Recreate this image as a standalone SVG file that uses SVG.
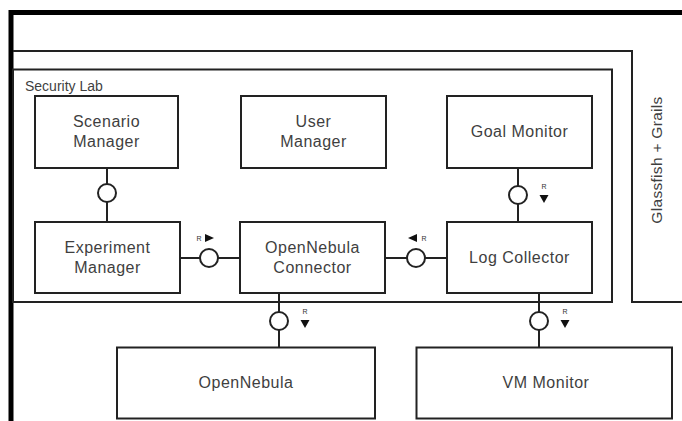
<svg xmlns="http://www.w3.org/2000/svg" width="682" height="421" viewBox="0 0 682 421">
<defs>
<style>
.box{fill:#fff;stroke:#222;stroke-width:2}
.ln{fill:none;stroke:#222;stroke-width:2}
.lol{fill:#fff;stroke:#222;stroke-width:2}
.t{font-family:"Liberation Sans",Arial,sans-serif;font-size:16px;letter-spacing:0.5px;fill:#3f3f3f;text-anchor:middle}
.r{font-family:"Liberation Sans",Arial,sans-serif;font-size:7px;fill:#333;text-anchor:middle}
.tri{fill:#111}
</style>
</defs>
<rect width="682" height="421" fill="#fff"/>
<g id="frame">
<path d="M11 421 V12.5 H682" fill="none" stroke="#000" stroke-width="5"/>
<path class="ln" d="M13 51 H632 V302 H682"/>
<text x="657" y="160" class="t" style="font-size:15.5px;letter-spacing:0.3px" transform="rotate(-90 657 160)" dy="5">Glassfish + Grails</text>
</g>
<g id="security-lab">
<rect class="box" x="13" y="69.5" width="599" height="232.5"/>
<text x="25" y="91" font-family="Liberation Sans, Arial, sans-serif" font-size="14" fill="#3f3f3f">Security Lab</text>
</g>
<g id="connectors">
<path class="ln" d="M107 168 V222"/>
<path class="ln" d="M180 258 H240"/>
<path class="ln" d="M385 258 H447"/>
<path class="ln" d="M518 168 V222"/>
<path class="ln" d="M279 293 V347.5"/>
<path class="ln" d="M539 293 V347.5"/>
<circle class="lol" cx="107" cy="193" r="9"/>
<circle class="lol" cx="209" cy="258" r="9"/>
<circle class="lol" cx="416" cy="258" r="9"/>
<circle class="lol" cx="518" cy="195" r="9"/>
<circle class="lol" cx="279" cy="321" r="9"/>
<circle class="lol" cx="539" cy="321" r="9"/>
<text class="r" x="199" y="241">R</text>
<path class="tri" d="M205 234 L214 238 L205 242 Z"/>
<text class="r" x="424" y="241">R</text>
<path class="tri" d="M417 234 L408 238 L417 242 Z"/>
<text class="r" x="544" y="189">R</text>
<path class="tri" d="M539.5 195 L548.5 195 L544 203 Z"/>
<text class="r" x="305" y="314">R</text>
<path class="tri" d="M300.5 320 L309.5 320 L305 328 Z"/>
<text class="r" x="565" y="314">R</text>
<path class="tri" d="M560.5 320 L569.5 320 L565 328 Z"/>
</g>
<g id="scenario-manager">
<rect class="box" x="35" y="96" width="143" height="72"/>
<text class="t" x="106.5" y="127">Scenario</text>
<text class="t" x="106.5" y="147">Manager</text>
</g>
<g id="user-manager">
<rect class="box" x="241" y="96" width="145" height="72"/>
<text class="t" x="313.5" y="127">User</text>
<text class="t" x="313.5" y="147">Manager</text>
</g>
<g id="goal-monitor">
<rect class="box" x="447" y="96" width="145" height="72"/>
<text class="t" x="519.5" y="137">Goal Monitor</text>
</g>
<g id="experiment-manager">
<rect class="box" x="35" y="222" width="145" height="71"/>
<text class="t" x="107.5" y="253">Experiment</text>
<text class="t" x="107.5" y="273">Manager</text>
</g>
<g id="opennebula-connector">
<rect class="box" x="240" y="222" width="145" height="71"/>
<text class="t" x="312.5" y="253">OpenNebula</text>
<text class="t" x="312.5" y="273">Connector</text>
</g>
<g id="log-collector">
<rect class="box" x="447" y="222" width="145" height="71"/>
<text class="t" x="519.5" y="263">Log Collector</text>
</g>
<g id="opennebula">
<rect class="box" x="117" y="347.5" width="258" height="71"/>
<text class="t" x="246" y="388">OpenNebula</text>
</g>
<g id="vm-monitor">
<rect class="box" x="416.5" y="347.5" width="255.5" height="71"/>
<text class="t" x="546" y="388">VM Monitor</text>
</g>
</svg>
